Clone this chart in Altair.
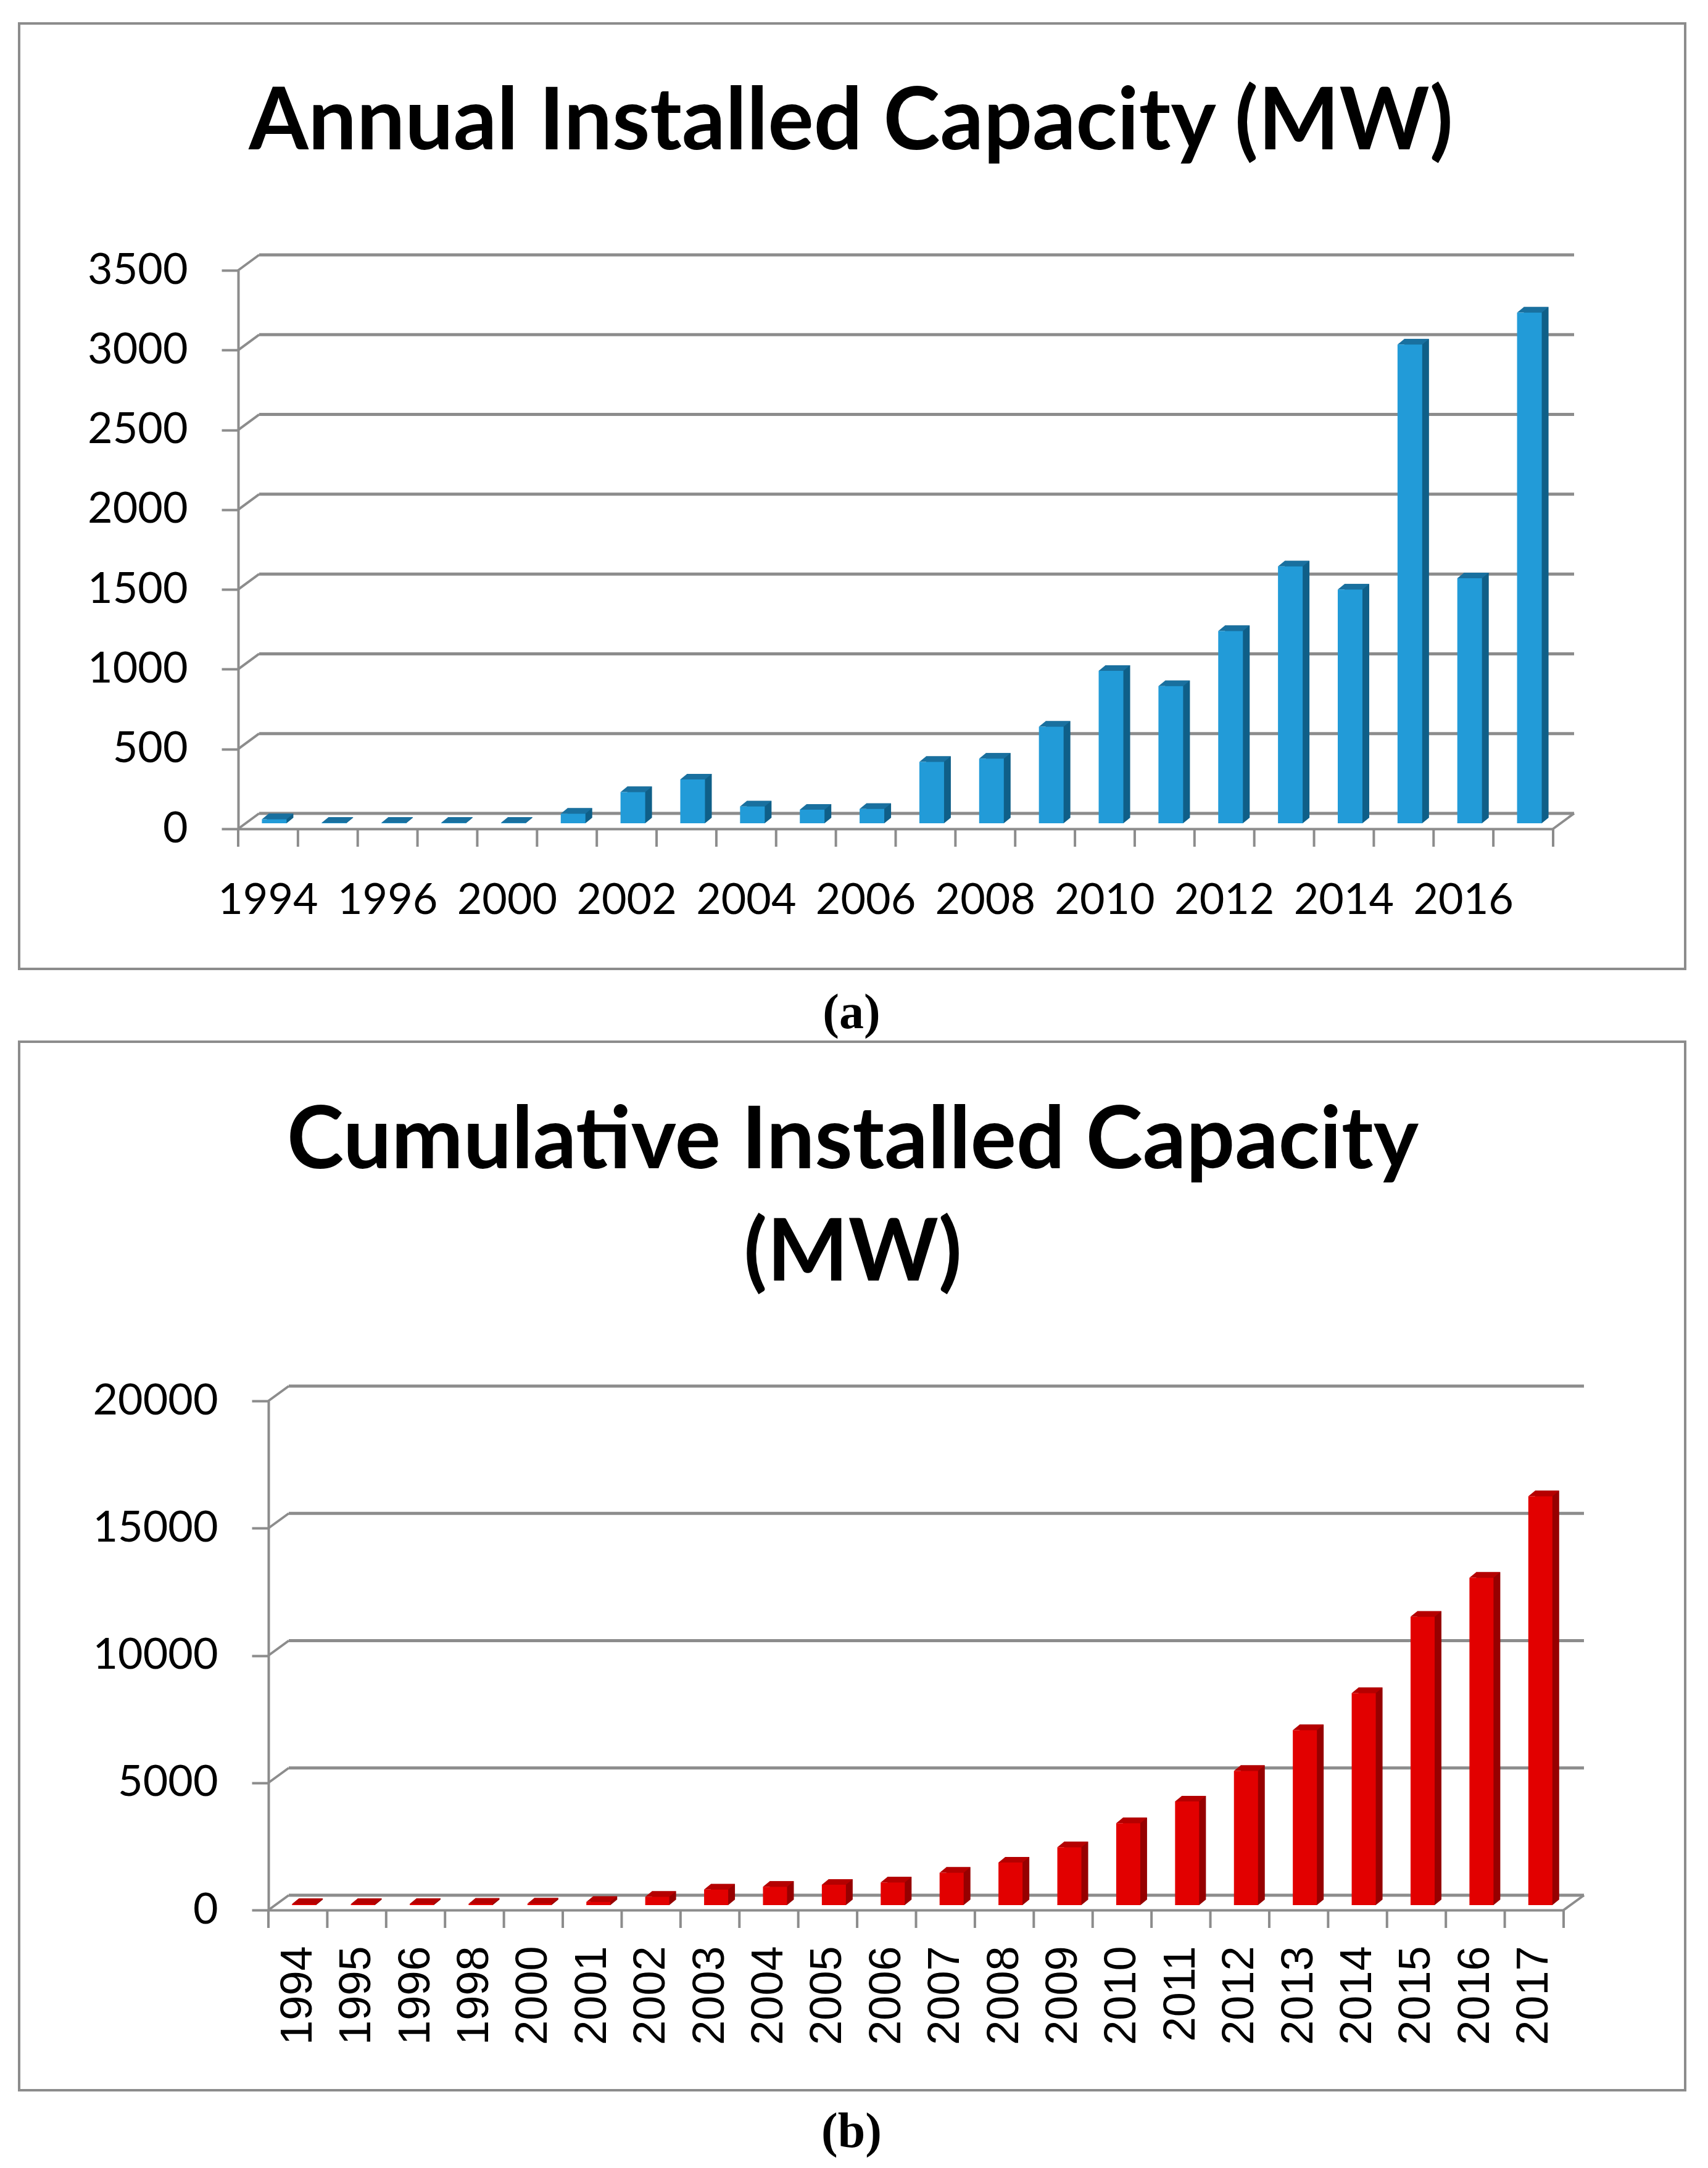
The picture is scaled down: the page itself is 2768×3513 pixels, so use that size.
import altair as alt
import pandas as pd

# ---------------- data ----------------
years = ["1994", "1995", "1996", "1998", "2000", "2001", "2002", "2003", "2004", "2005", "2006",
         "2007", "2008", "2009", "2010", "2011", "2012", "2013", "2014", "2015", "2016", "2017"]
annual = [25, 3, 3, 3, 3, 60, 195, 275, 105, 85, 90,
          385, 405, 605, 955, 860, 1205, 1610, 1465, 3000, 1535, 3200]
cumulative = [40, 45, 50, 55, 60, 130, 330, 610, 720, 800, 890,
              1270, 1670, 2270, 3220, 4070, 5270, 6870, 8330, 11330, 12860, 16060]
annual_shown_labels = ["1994", "1996", "2000", "2002", "2004", "2006", "2008",
                       "2010", "2012", "2014", "2016"]
annual_ticks = [0, 500, 1000, 1500, 2000, 2500, 3000, 3500]
cumulative_ticks = [0, 5000, 10000, 15000, 20000]
title_a = ["Annual Installed Capacity (MW)"]
title_b = ["Cumulative Installed Capacity", "(MW)"]
captions = ["(a)", "(b)"]

GRAY = "#8c8c8c"
LABEL_FONT = "Lato"
TITLE_FONT = "Lato"


def one():
    return pd.DataFrame({"k": [0], "zero": [0]})


def panel(vals, ticks, x0, W, H, front, topc, side, bw, ox, oy, dx, dy, gx, gy,
          xaxis, titles, title_x, title_ys, caption, cap_x, cap_y, frame, extend=None):
    df = pd.DataFrame({"year": years, "value": vals, "zero": [0] * len(years)})
    ymax = ticks[-1]
    yscale = alt.Scale(domain=[0, ymax], nice=False, zero=True)
    xscale = alt.Scale(paddingInner=0, paddingOuter=0, range=[x0, x0 + W])
    X = alt.X("year:N", sort=years, scale=xscale, axis=xaxis, title=None)
    yaxis = alt.Axis(values=ticks, title=None, grid=False, domain=True, domainColor=GRAY,
                     domainWidth=4, ticks=True, tickColor=GRAY, tickWidth=4, tickSize=27,
                     labelFont=LABEL_FONT, labelFontSize=70, labelColor="black",
                     labelPadding=55, labelFlush=False, format="d", labelLimit=1000,
                     offset=-x0)

    def Yf(field):
        return alt.Y(field, scale=yscale, axis=yaxis, title=None)

    s = bw + dx
    rx = -1 + 2 * bw / s
    tlx = -1 + 2 * dx / s
    ty = -2 * dy / s
    path = f"M -1 0 L {rx:.4f} 0 L 1 {ty:.4f} L {tlx:.4f} {ty:.4f} Z"

    tdf = pd.DataFrame({"t": ticks})
    grid = alt.Chart(tdf).mark_rule(color=GRAY, strokeWidth=5, yOffset=-gy).encode(
        y=Yf("t:Q"), x=alt.value(x0 + gx), x2=alt.value(x0 + W + gx))
    diag = alt.Chart(tdf).mark_rule(color=GRAY, strokeWidth=4, y2Offset=-gy).encode(
        y=Yf("t:Q"), y2=alt.Y2("t:Q"), x=alt.value(x0), x2=alt.value(x0 + gx))
    floor_edge = alt.Chart(one()).mark_rule(color=GRAY, strokeWidth=4, y2Offset=-gy).encode(
        y=Yf("zero:Q"), y2=alt.Y2("zero:Q"), x=alt.value(x0 + W), x2=alt.value(x0 + W + gx))
    band = W / len(years)
    ticks_x = alt.Chart(df).mark_rule(color=GRAY, strokeWidth=4, xOffset=-band / 2,
                                      y2Offset=29).encode(x=X, y=Yf("zero:Q"),
                                                          y2=alt.Y2("zero:Q"))
    end_tick = alt.Chart(one()).mark_rule(color=GRAY, strokeWidth=4, y2Offset=29).encode(
        x=alt.value(x0 + W), y=Yf("zero:Q"), y2=alt.Y2("zero:Q"))

    bottom_face = alt.Chart(df).mark_point(shape=path, size=s * s, filled=True, fill=side,
                                           opacity=1, strokeWidth=0, xOffset=ox + dx / 2,
                                           yOffset=-oy).encode(x=X, y=Yf("zero:Q"))
    back = alt.Chart(df).mark_bar(size=bw, color=side, xOffset=ox + dx,
                                  yOffset=-oy - dy, y2Offset=-oy - dy).encode(
        x=X, y=Yf("value:Q"))
    top_face = alt.Chart(df).mark_point(shape=path, size=s * s, filled=True, fill=topc,
                                        opacity=1, strokeWidth=0, xOffset=ox + dx / 2,
                                        yOffset=-oy).encode(x=X, y=Yf("value:Q"))
    front_bar = alt.Chart(df).mark_bar(size=bw, color=front, xOffset=ox,
                                       yOffset=-oy, y2Offset=-oy).encode(
        x=X, y=Yf("value:Q"))

    fx1, fy1, fx2, fy2 = frame
    frame_rect = alt.Chart(one()).mark_rect(filled=False, stroke=GRAY, strokeWidth=4).encode(
        x=alt.value(fx1), x2=alt.value(fx2), y=alt.value(fy1), y2=alt.value(fy2))

    layers = [grid, diag, floor_edge, ticks_x, end_tick, bottom_face, back, top_face,
              front_bar, frame_rect]
    if extend is not None:
        layers.append(alt.Chart(one()).mark_rect(fill="white", opacity=1).encode(
            x=alt.value(fx1 + 4), x2=alt.value(fx1 + 5), y=alt.value(extend - 1),
            y2=alt.value(extend)))

    for line, ty_ in zip(titles, title_ys):
        layers.append(alt.Chart(pd.DataFrame({"txt": [line]})).mark_text(
            font=TITLE_FONT, fontWeight="bold", fontSize=139, align="center",
            baseline="alphabetic", color="black").encode(
            text="txt:N", x=alt.value(title_x), y=alt.value(ty_)))
    layers.append(alt.Chart(pd.DataFrame({"txt": [caption]})).mark_text(
        font="Liberation Serif", fontSize=80, fontWeight="bold", align="center",
        baseline="middle", color="black").encode(
        text="txt:N", x=alt.value(cap_x), y=alt.value(cap_y)))

    return alt.layer(*layers).properties(width=x0 + W, height=H)


label_list = "[" + ",".join(f"'{v}'" for v in annual_shown_labels) + "]"
xaxis_a = alt.Axis(labelAngle=0, labelFont=LABEL_FONT, labelFontSize=70, labelColor="black",
                   labelPadding=53, ticks=True, tickSize=29, tickOpacity=0, domain=True,
                   domainColor=GRAY, domainWidth=4, labelOverlap=False, grid=False,
                   labelExpr=f"indexof({label_list}, datum.value) >= 0 ? datum.value : ''")
xaxis_b = alt.Axis(labelAngle=-90, labelFont="Liberation Sans", labelFontSize=72,
                   labelColor="black", labelPadding=29, ticks=True, tickSize=29, tickOpacity=0,
                   domain=True, domainColor=GRAY, domainWidth=4, labelOverlap=False, grid=False)

# both plot groups share the same origin (x = 386 on the page); the lower panel's
# front axis sits 49 px further right inside its group
top = panel(annual, annual_ticks, x0=0, W=2131, H=905,
            front="#229bd8", topc="#19709f", side="#0f5f88",
            bw=40, ox=10, oy=9, dx=11, dy=9, gx=34, gy=25,
            xaxis=xaxis_a, titles=title_a, title_x=993, title_ys=[-196],
            caption=captions[0], cap_x=994, cap_y=1204,
            frame=(-355, -400, 2345, 1132), extend=1248)

bottom = panel(cumulative, cumulative_ticks, x0=49, W=2099, H=825,
               front="#e20000", topc="#b50000", side="#960000",
               bw=39, ox=10, oy=8, dx=11, dy=9, gx=33, gy=24,
               xaxis=xaxis_b, titles=title_b, title_x=996, title_ys=[-377, -195],
               caption=captions[1], cap_x=994, cap_y=1185,
               frame=(-355, -582, 2345, 1117))

chart = alt.vconcat(top, bottom, spacing=0).properties(
    padding={"left": 21, "top": 28, "right": 10, "bottom": 10},
    background="white",
).configure_view(stroke=None)

chart.save("out.html", embed_options={"renderer": "svg", "actions": False})
